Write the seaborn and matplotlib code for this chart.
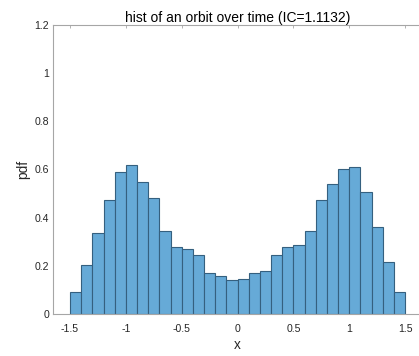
import numpy as np
import pandas as pd
import matplotlib
matplotlib.use("Agg")
import matplotlib.pyplot as plt
import seaborn as sns

# histogram of an orbit: 30 bins of width 0.1 over [-1.5, 1.5]
bin_lo, bin_hi, bin_width = -1.5, 1.5, 0.1
pdf_values = [0.090, 0.202, 0.338, 0.472, 0.591, 0.619, 0.548, 0.480, 0.345, 0.278,
              0.269, 0.244, 0.169, 0.158, 0.141, 0.144, 0.169, 0.179, 0.245, 0.278,
              0.287, 0.345, 0.472, 0.539, 0.602, 0.609, 0.508, 0.360, 0.215, 0.090]
x_ticks = [-1.5, -1, -0.5, 0, 0.5, 1, 1.5]
x_tick_labels = ["-1.5", "-1", "-0.5", "0", "0.5", "1", "1.5"]
y_ticks = [0, 0.2, 0.4, 0.6, 0.8, 1.0, 1.2]
y_tick_labels = ["0", "0.2", "0.4", "0.6", "0.8", "1", "1.2"]

bin_centers = bin_lo + bin_width * (np.arange(len(pdf_values)) + 0.5)
df = pd.DataFrame({"x": bin_centers, "pdf": pdf_values})

sns.set_theme(style="white")
plt.rcParams["font.family"] = ["Liberation Sans", "DejaVu Sans"]
plt.rcParams["axes.unicode_minus"] = False

text_color = "#262626"
spine_color = "#a6a6a6"

fig = plt.figure(figsize=(4.19, 3.56), dpi=100)
ax = fig.add_axes([0.1272, 0.118, 0.8795, 0.8118])

sns.histplot(data=df, x="x", weights="pdf", binwidth=bin_width,
             binrange=(bin_lo, bin_hi), stat="count",
             color="#66aad7", alpha=1.0, edgecolor="#35607f", linewidth=0.8, ax=ax)

ax.set_xlim(-1.65, 1.65)
ax.set_ylim(0, 1.2)
ax.set_xticks(x_ticks)
ax.set_xticklabels(x_tick_labels)
ax.set_yticks(y_ticks)
ax.set_yticklabels(y_tick_labels)

for side in ["left", "right", "top", "bottom"]:
    ax.spines[side].set_visible(True)
    ax.spines[side].set_color(spine_color)
    ax.spines[side].set_linewidth(0.8)

ax.tick_params(axis="both", which="both", direction="in", length=2.3, width=0.6,
               color=spine_color, labelcolor=text_color, labelsize=7.6,
               top=True, right=True)
ax.tick_params(axis="x", pad=7.5)
ax.tick_params(axis="y", pad=3)

ax.set_xlabel("x", fontsize=9.8, color=text_color, labelpad=2.5)
ax.set_ylabel("pdf", fontsize=9.8, color=text_color, labelpad=3)
ax.set_title("hist of an orbit over time (IC=1.1132)", fontsize=10,
             color="black", pad=2.5)

fig.savefig("out.png", dpi=100)
